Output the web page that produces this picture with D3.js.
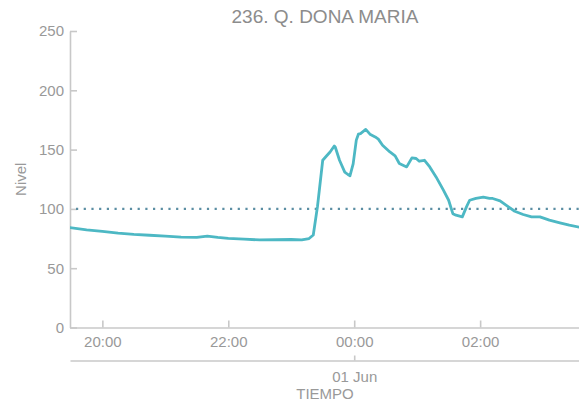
<!DOCTYPE html>
<html>
<head>
<meta charset="utf-8">
<script src="https://cdn.jsdelivr.net/npm/d3@7"></script>
<style>
  body { margin: 0; background: #fff; }
  svg { display: block; font-family: "Liberation Sans", Arial, Helvetica, sans-serif; }
  .axis path, .axis line { stroke: #c8c8c8; stroke-width: 1.6; }
  .axis text { fill: #999; font-size: 15px; }
  .title { fill: #8c8c8c; font-size: 19px; }
  .label { fill: #999; font-size: 15px; }
</style>
</head>
<body>
<svg id="chart"></svg>
<script>
// level readings (Nivel) over time, 31 May -> 01 Jun
var times = [
  "2020-05-31 19:29", "2020-05-31 19:45", "2020-05-31 20:00", "2020-05-31 20:15",
  "2020-05-31 20:30", "2020-05-31 20:45", "2020-05-31 21:00", "2020-05-31 21:15",
  "2020-05-31 21:30", "2020-05-31 21:40", "2020-05-31 21:50", "2020-05-31 22:00",
  "2020-05-31 22:15", "2020-05-31 22:30", "2020-05-31 22:45", "2020-05-31 23:00",
  "2020-05-31 23:10", "2020-05-31 23:17", "2020-05-31 23:21", "2020-05-31 23:25",
  "2020-05-31 23:30", "2020-05-31 23:34", "2020-05-31 23:37", "2020-05-31 23:41",
  "2020-05-31 23:42", "2020-05-31 23:46", "2020-05-31 23:51", "2020-05-31 23:54",
  "2020-05-31 23:56", "2020-05-31 23:59", "2020-06-01 00:02", "2020-06-01 00:04",
  "2020-06-01 00:06", "2020-06-01 00:11", "2020-06-01 00:15", "2020-06-01 00:20",
  "2020-06-01 00:23", "2020-06-01 00:27", "2020-06-01 00:34", "2020-06-01 00:39",
  "2020-06-01 00:43", "2020-06-01 00:50", "2020-06-01 00:55", "2020-06-01 00:59",
  "2020-06-01 01:02", "2020-06-01 01:07", "2020-06-01 01:12", "2020-06-01 01:18",
  "2020-06-01 01:25", "2020-06-01 01:30", "2020-06-01 01:34", "2020-06-01 01:37",
  "2020-06-01 01:43", "2020-06-01 01:47", "2020-06-01 01:50", "2020-06-01 01:56",
  "2020-06-01 02:03", "2020-06-01 02:09", "2020-06-01 02:12", "2020-06-01 02:19",
  "2020-06-01 02:27", "2020-06-01 02:33", "2020-06-01 02:41", "2020-06-01 02:49",
  "2020-06-01 02:57", "2020-06-01 03:06", "2020-06-01 03:16", "2020-06-01 03:25",
  "2020-06-01 03:35"
];
var nivel = [
  84.3, 82.3, 81.0, 79.5,
  78.5, 77.8, 77.0, 76.2,
  76.0, 77.0, 76.0, 75.2,
  74.5, 73.8, 74.0, 74.2,
  73.8, 75.0, 78.0, 102,
  141, 145, 148, 153,
  152, 141, 131, 129,
  128, 138, 158, 163,
  163.5, 167, 163, 160.7,
  158.8, 153.7, 148, 144.7,
  138.3, 135.4, 143, 142.5,
  140.2, 141, 135.4, 127,
  115.8, 107.3, 96, 94.7,
  93.3, 101.7, 107.3, 108.8,
  110, 108.8, 108.8, 106.8,
  101.7, 98, 95.3, 93.3,
  93.3, 90.5, 88.2, 86.3,
  84.5
];
var yTicks = [0, 50, 100, 150, 200, 250];
var umbral = 100; // threshold level
var timeRange = ["2020-05-31 19:29:10", "2020-06-01 03:35:10"];

function drawChart() {
  var W = 579, H = 402;
  var mLeft = 70, mRight = 580, mTop = 31, mBottom = 327.5;

  var parse = d3.timeParse("%Y-%m-%d %H:%M");
  var parseS = d3.timeParse("%Y-%m-%d %H:%M:%S");
  var data = times.map(function(t, i) { return { t: parse(t), v: nivel[i] }; });

  var svg = d3.select("#chart").attr("width", W).attr("height", H);

  var x = d3.scaleTime()
    .domain(timeRange.map(parseS))
    .range([mLeft, mRight]);
  var y = d3.scaleLinear()
    .domain([0, 250])
    .range([mBottom, mTop]);

  svg.append("defs").append("clipPath").attr("id", "clip")
    .append("rect").attr("x", mLeft).attr("y", 0)
    .attr("width", mRight - mLeft).attr("height", mBottom);

  // title
  svg.append("text")
    .attr("class", "title")
    .attr("x", (mLeft + mRight) / 2)
    .attr("y", 23)
    .attr("text-anchor", "middle")
    .text("236. Q. DONA MARIA");

  // y axis
  var yAxis = d3.axisLeft(y)
    .tickValues(yTicks)
    .tickSizeInner(-7)
    .tickSizeOuter(0)
    .tickPadding(6);
  svg.append("g")
    .attr("class", "axis")
    .attr("transform", "translate(" + mLeft + ",0)")
    .call(yAxis);

  // x axis (hours)
  var xAxis = d3.axisBottom(x)
    .ticks(d3.timeHour.every(2))
    .tickFormat(d3.timeFormat("%H:%M"))
    .tickSizeInner(-7)
    .tickSizeOuter(0)
    .tickPadding(9);
  svg.append("g")
    .attr("class", "axis")
    .attr("transform", "translate(0," + mBottom + ")")
    .call(xAxis);

  // x axis (days)
  var dayAxis = d3.axisBottom(x)
    .ticks(d3.timeDay.every(1))
    .tickFormat(d3.timeFormat("%d %b"))
    .tickSizeInner(-5)
    .tickSizeOuter(0)
    .tickPadding(11);
  svg.append("g")
    .attr("class", "axis")
    .attr("transform", "translate(0,360.5)")
    .call(dayAxis);

  // axis labels
  svg.append("text")
    .attr("class", "label")
    .attr("x", (mLeft + mRight) / 2)
    .attr("y", 399)
    .attr("text-anchor", "middle")
    .text("TIEMPO");

  svg.append("text")
    .attr("class", "label")
    .attr("transform", "translate(26," + ((mTop + mBottom) / 2) + ") rotate(-90)")
    .attr("text-anchor", "middle")
    .text("Nivel");

  // threshold
  svg.append("line")
    .attr("x1", mLeft + 6).attr("x2", mRight)
    .attr("y1", y(umbral)).attr("y2", y(umbral))
    .attr("stroke", "#5b8ea3")
    .attr("stroke-width", 2.2)
    .attr("stroke-dasharray", "2.2,5.5");

  // series line
  var line = d3.line()
    .x(function(d) { return x(d.t); })
    .y(function(d) { return y(d.v); });

  svg.append("path")
    .datum(data)
    .attr("clip-path", "url(#clip)")
    .attr("fill", "none")
    .attr("stroke", "#4db8c4")
    .attr("stroke-width", 2.8)
    .attr("stroke-linejoin", "round")
    .attr("d", line);
}

drawChart();
</script>
</body>
</html>
